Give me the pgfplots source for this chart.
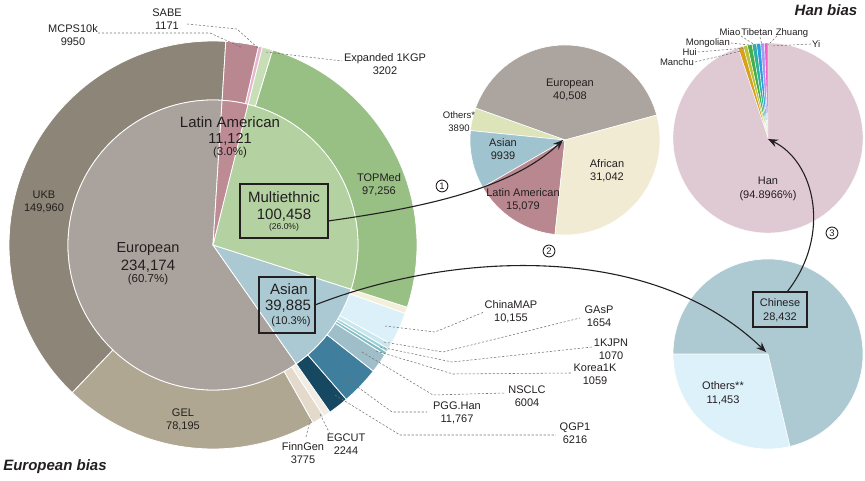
\documentclass[border=0pt]{standalone}
\usepackage{pgfplots}
\pgfplotsset{compat=1.18}
\usepackage{pgfplotstable}
\usepackage{fontspec}
\setmainfont{Liberation Sans}
\usetikzlibrary{arrows.meta}

\definecolor{txt}{HTML}{231F20}
% sunburst, inner ring
\definecolor{cEur}{HTML}{AAA29C}
\definecolor{cLat}{HTML}{BC8B94}
\definecolor{cMul}{HTML}{B3D1A1}
\definecolor{cAsia}{HTML}{AAC9D3}
% sunburst, outer ring
\definecolor{cUKB}{HTML}{8D8577}
\definecolor{cGEL}{HTML}{B0A793}
\definecolor{cFinn}{HTML}{E4DACB}
\definecolor{cEGC}{HTML}{F1ECE4}
\definecolor{cMCPS}{HTML}{B98790}
\definecolor{cSABE}{HTML}{E8B4CE}
\definecolor{cExp}{HTML}{C7DEB7}
\definecolor{cTOP}{HTML}{98BF84}
\definecolor{cCMAP}{HTML}{DCF0FA}
\definecolor{cAsx}{HTML}{F4EFD9}
\definecolor{cGAsP}{HTML}{C9E7EE}
\definecolor{cKJPN}{HTML}{9CD0D5}
\definecolor{cKor}{HTML}{7EBDC3}
\definecolor{cNSC}{HTML}{9EBFCA}
\definecolor{cPGG}{HTML}{3F7E9C}
\definecolor{cQGP}{HTML}{174862}
% multiethnic pie
\definecolor{pEur}{HTML}{ACA49E}
\definecolor{pAfr}{HTML}{F1EBD4}
\definecolor{pLat}{HTML}{B9878F}
\definecolor{pAsi}{HTML}{A0C4CF}
\definecolor{pOth}{HTML}{DDE4BA}
% han pie
\definecolor{cHan}{HTML}{DFCAD3}
\definecolor{cManchu}{HTML}{D6A11F}
\definecolor{cHui}{HTML}{B9C23A}
\definecolor{cMongol}{HTML}{45AE4B}
\definecolor{cMiao}{HTML}{2DB39D}
\definecolor{cTibet}{HTML}{2F9BE0}
\definecolor{cZhuang}{HTML}{A59CF0}
\definecolor{cYi}{HTML}{F25CC8}
% asian pie
\definecolor{cChin}{HTML}{ADCAD3}
\definecolor{cOth}{HTML}{DDF1FB}

% rows run counterclockwise from the start angle
\pgfplotstableread[col sep=comma]{
name,value,color
European,234174,cEur
Asian,39885,cAsia
Multiethnic,100458,cMul
Latin American,11121,cLat
}\innerring

\pgfplotstableread[col sep=comma]{
name,value,color
UKB,149960,cUKB
GEL,78195,cGEL
FinnGen,3775,cFinn
EGCUT,2244,cEGC
QGP1,6216,cQGP
PGG.Han,11767,cPGG
NSCLC,6004,cNSC
Korea1K,1059,cKor
1KJPN,1070,cKJPN
GAsP,1654,cGAsP
ChinaMAP,10155,cCMAP
unlabelled,1960,cAsx
TOPMed,97256,cTOP
Expanded 1KGP,3202,cExp
SABE,1171,cSABE
MCPS10k,9950,cMCPS
}\outerring

\pgfplotstableread[col sep=comma]{
name,value,color
European,40508,pEur
Others,3890,pOth
Asian,9939,pAsi
Latin American,15079,pLat
African,31042,pAfr
}\multipie

\pgfplotstableread[col sep=comma]{
name,value,color
Yi,0.6034,cYi
Zhuang,0.65,cZhuang
Tibetan,0.70,cTibet
Miao,0.75,cMiao
Mongolian,0.80,cMongol
Hui,0.70,cHui
Manchu,0.90,cManchu
Han,94.8966,cHan
}\hanpie

\pgfplotstableread[col sep=comma]{
name,value,color
Others,11453,cOth
Chinese,28432,cChin
}\asianpie

% #1 table, #2 #3 centre, #4 inner r, #5 outer r, #6 start angle, #7 total, #8 border
\newcommand\drawring[8]{%
  \pgfplotstablegetrowsof{#1}%
  \edef\segN{\fpeval{\pgfplotsretval-1}}%
  \edef\segA{#6}%
  \pgfplotsforeachungrouped \segI in {0,...,\segN}{%
    \pgfplotstablegetelem{\segI}{value}\of#1\edef\segV{\pgfplotsretval}%
    \pgfplotstablegetelem{\segI}{color}\of#1\edef\segC{\pgfplotsretval}%
    \edef\segB{\fpeval{round(\segA+\segV*360/(#7),3)}}%
    \edef\segDo{\noexpand\fill[fill=\segC,draw=white,line width=#8]
      ([shift={(\segA:#5pt)}]axis cs:#2,#3) arc[start angle=\segA,end angle=\segB,radius=#5pt]
      -- ([shift={(\segB:#4pt)}]axis cs:#2,#3) arc[start angle=\segB,end angle=\segA,radius=#4pt] -- cycle;}%
    \segDo
    \let\segA\segB
  }}

\tikzset{
  lab/.style={font=\fontsize{11}{13}\selectfont,align=center,text=txt,inner sep=0pt},
  small/.style={font=\fontsize{9.5}{11}\selectfont,text=txt,inner sep=0pt},
  leader/.style={draw=black!55,dash pattern=on 2.2pt off 1.8pt,line width=0.55pt},
  box/.style={draw=txt,line width=1.2pt},
  num/.style={draw=txt,circle,line width=0.9pt,inner sep=1.2pt,font=\fontsize{9.5}{10}\selectfont,text=txt},
  arr/.style={draw=txt,line width=1.1pt,-{Stealth[length=10pt,width=8pt,inset=3.5pt]}},
}

\begin{document}
\begin{tikzpicture}
\useasboundingbox (0,0) rectangle (865pt,480pt);
\begin{axis}[
    x=1pt, y=1pt,
    xmin=0, xmax=865, ymin=0, ymax=480,
    disabledatascaling,
    hide axis,
    clip=false,
]
% European bias sunburst
\drawring{\outerring}{213}{235}{145}{204}{86.4}{385638}{0.8pt}
\drawring{\innerring}{213}{235}{0.01}{145}{86.4}{385638}{0.8pt}
% multiethnic breakdown
\drawring{\multipie}{565}{340}{0.01}{95}{15.2}{100458}{0.6pt}
% han bias
\drawring{\hanpie}{768}{342}{0.01}{95}{90}{100}{0.4pt}
% asian breakdown
\drawring{\asianpie}{768}{126}{0.01}{95}{180}{39885}{0.6pt}

% inner labels
\node[lab,font=\fontsize{15}{16}\selectfont] at (230,358) {Latin American};
\node[lab,font=\fontsize{14.5}{16}\selectfont] at (230,341) {11,121};
\node[lab,font=\fontsize{11.5}{12}\selectfont] at (230,327) {(3.0\%)};
\node[lab,font=\fontsize{14.5}{16}\selectfont] at (148,231) {European};
\node[lab,font=\fontsize{15}{16}\selectfont] at (148,214) {234,174};
\node[lab,font=\fontsize{11.5}{12}\selectfont] at (148,200) {(60.7\%)};
\draw[box] (240,242) rectangle (328,296);
\node[lab,font=\fontsize{15}{16}\selectfont] at (284,283) {Multiethnic};
\node[lab,font=\fontsize{15}{16}\selectfont] at (284,265) {100,458};
\node[lab,font=\fontsize{8.5}{9}\selectfont] at (284,253) {(26.0\%)};
\draw[box] (259,147) rectangle (315,203);
\node[lab,font=\fontsize{15}{16}\selectfont] at (289,191) {Asian};
\node[lab,font=\fontsize{15}{16}\selectfont] at (288,174) {39,885};
\node[lab,font=\fontsize{11.2}{12}\selectfont] at (291,158) {(10.3\%)};

% outer ring labels and leaders
\node[lab] at (44,278) {UKB\\149,960};
\node[lab] at (379,295) {TOPMed\\97,256};
\node[lab] at (183,60) {GEL\\78,195};
\node[lab] at (303,27) {FinnGen\\3775};
\node[lab] at (346,36) {EGCUT\\2244};
\node[lab] at (73,445) {MCPS10k\\9950};
\node[lab] at (167,461) {SABE\\1171};
\node[lab] at (385,416) {Expanded 1KGP\\3202};
\draw[leader] (98,447) -- (210,447) -- (243,432);
\draw[leader] (187,456) -- (237,451) -- (259,431);
\draw[leader] (266,428) -- (342,419);
\draw[leader] (306,43) -- (311,63);
\draw[leader] (330,46) -- (320,66);

\node[lab] at (511,168) {ChinaMAP\\10,155};
\node[lab] at (599,164) {GAsP\\1654};
\node[lab] at (611,131) {1KJPN\\1070};
\node[lab] at (595,106) {Korea1K\\1059};
\node[lab] at (527,84) {NSCLC\\6004};
\node[lab] at (457,67) {PGG.Han\\11,767};
\node[lab] at (575,47) {QGP1\\6216};
\draw[leader] (385,154) -- (435,148) -- (484,168);
\draw[leader] (384,138) -- (443,128) -- (580,162);
\draw[leader] (380,133) -- (452,118) -- (592,133);
\draw[leader] (376,129) -- (453,106) -- (571,107);
\draw[leader] (362,128) -- (433,85) -- (505,87);
\draw[leader] (348,100) -- (392,68) -- (427,68);
\draw[leader] (335,85) -- (400,45) -- (556,45);

% multiethnic pie labels
\node[lab,font=\fontsize{11}{13}\selectfont] at (570,390) {European\\40,508};
\node[lab,font=\fontsize{11}{13}\selectfont] at (607,309) {African\\31,042};
\node[lab,font=\fontsize{11}{13}\selectfont] at (523,280) {Latin American\\15,079};
\node[lab,font=\fontsize{11}{13}\selectfont] at (503,331) {Asian\\9939};
\node[lab,font=\fontsize{9.5}{13}\selectfont] at (459,358) {Others*\\3890};

% han pie labels
\node[lab,font=\fontsize{11}{14}\selectfont] at (768,291) {Han\\(94.8966\%)};
\node[small,anchor=east] at (694,418) {Manchu};
\node[small,anchor=east] at (697,428) {Hui};
\node[small,anchor=east] at (730,437) {Mongolian};
\node[small] at (730,448) {Miao};
\node[small] at (757,448) {Tibetan};
\node[small] at (792,447) {Zhuang};
\node[small,anchor=west] at (812,436) {Yi};
\draw[leader] (695,418) -- (741,429);
\draw[leader] (698,428) -- (745,432);
\draw[leader] (731,437) -- (749,435);
\draw[leader] (741,444) -- (755,435);
\draw[leader] (760,443) -- (762,435);
\draw[leader] (777,444) -- (768,435);
\draw[leader] (811,436) -- (771,434);

% asian pie labels
\node[lab,font=\fontsize{11}{14}\selectfont] at (723,87) {Others**\\11,453};
\draw[box] (753,153) rectangle (807,188);
\node[lab,font=\fontsize{11}{14}\selectfont] at (780,170) {Chinese\\28,432};

% arrows
\draw[arr] (328,259) .. controls (420,272) and (510,290) .. (563,340);
\draw[arr] (315,175) .. controls (450,228) and (650,240) .. (766,128);
\draw[arr] (787,188) .. controls (832,245) and (815,318) .. (768,341);
\node[num] at (442,294) {1};
\node[num] at (549,229) {2};
\node[num] at (832,247) {3};

% titles
\node[font=\fontsize{15}{16}\selectfont\bfseries\itshape,text=txt] at (826,470) {Han bias};
\node[font=\fontsize{15}{16}\selectfont\bfseries\itshape,text=txt] at (55,13) {European bias};
\end{axis}
\end{tikzpicture}
\end{document}
